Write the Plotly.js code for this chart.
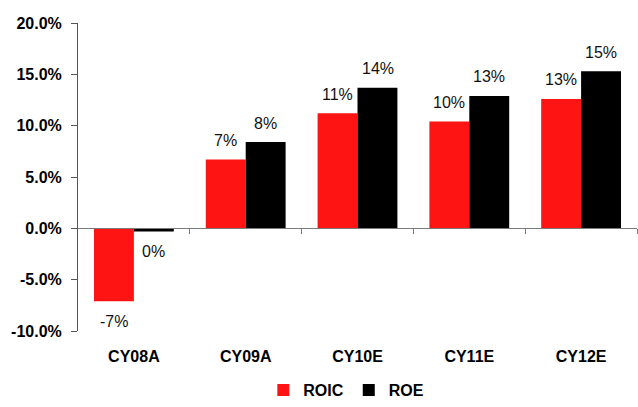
<!DOCTYPE html>
<html>
<head>
<meta charset="utf-8">
<script src="https://cdn.plot.ly/plotly-3.0.1.min.js"></script>
<style>html,body{margin:0;padding:0;background:#fff;}#chart{width:638px;height:407px;}</style>
</head>
<body>
<div id="chart"></div>
<script>
var categories = ['CY08A', 'CY09A', 'CY10E', 'CY11E', 'CY12E'];
var roic = [-7.1, 6.7, 11.2, 10.4, 12.6];
var roe = [-0.3, 8.4, 13.7, 12.9, 15.3];
var seriesNames = ['ROIC', 'ROE'];
var seriesColors = ['#FF1414', '#000000'];
var yTickVals = [-10, -5, 0, 5, 10, 15, 20];
var yTickText = ['-10.0%', '-5.0%', '0.0%', '5.0%', '10.0%', '15.0%', '20.0%'];

var FONT = 'Liberation Sans, Arial, sans-serif';

function label(v) { return Math.round(v) + '%'; }

var traces = [roic, roe].map(function (vals, i) {
  return {
    type: 'bar', name: seriesNames[i], x: categories, y: vals,
    marker: {color: seriesColors[i], line: {width: 0}},
    hoverinfo: 'skip'
  };
});

var annotations = [];
[roic, roe].forEach(function (vals, i) {
  vals.forEach(function (v, j) {
    annotations.push({
      x: categories[j], y: v, xref: 'x', yref: 'y',
      text: label(v), showarrow: false,
      xshift: i === 0 ? -20 : 20, yshift: v >= 0 ? 19 : -20,
      xanchor: 'center', yanchor: 'middle',
      font: {family: FONT, size: 16, color: '#111'}
    });
  });
});

// boundary tick axis placed at y = 0
traces.push({type: 'scatter', x: [], y: [], xaxis: 'x2', yaxis: 'y', showlegend: false, hoverinfo: 'skip'});

var layout = {
  width: 638, height: 407,
  margin: {l: 78, r: 1, t: 23, b: 76},
  paper_bgcolor: '#fff', plot_bgcolor: '#fff',
  barmode: 'group', bargap: 0.286, bargroupgap: 0,
  showlegend: true,
  legend: {orientation: 'h', x: 0.48, xanchor: 'center', yref: 'container', y: 0, yanchor: 'bottom',
           font: {family: FONT, size: 16, weight: 'bold', color: '#000'},
           itemwidth: 30, tracegroupgap: 0, traceorder: 'normal', bgcolor: 'rgba(0,0,0,0)'},
  xaxis: {
    type: 'category', categoryarray: categories, range: [-0.5, 4.5],
    showline: false, ticks: '', showgrid: false, zeroline: false,
    ticklabelstandoff: 14,
    tickfont: {family: FONT, size: 16, weight: 'bold', color: '#000'}
  },
  xaxis2: {
    overlaying: 'x', anchor: 'free', position: 1/3, range: [-0.5, 4.5],
    showline: true, linecolor: '#7a7a7a', linewidth: 1,
    ticks: 'outside', ticklen: 5, tickcolor: '#7a7a7a', tickwidth: 1,
    tickvals: [0.5, 1.5, 2.5, 3.5, 4.5], showticklabels: false,
    showgrid: false, zeroline: false
  },
  yaxis: {
    range: [-10, 20], tickmode: 'array', tickvals: yTickVals, ticktext: yTickText,
    showline: true, linecolor: '#555', linewidth: 1,
    ticks: 'outside', ticklen: 6, tickcolor: '#555',
    showgrid: false, zeroline: false,
    ticklabelstandoff: 6,
    tickfont: {family: FONT, size: 16, weight: 'bold', color: '#000'}
  },
  annotations: annotations
};

Plotly.newPlot('chart', traces, layout, {staticPlot: true, displayModeBar: false});
</script>
</body>
</html>
